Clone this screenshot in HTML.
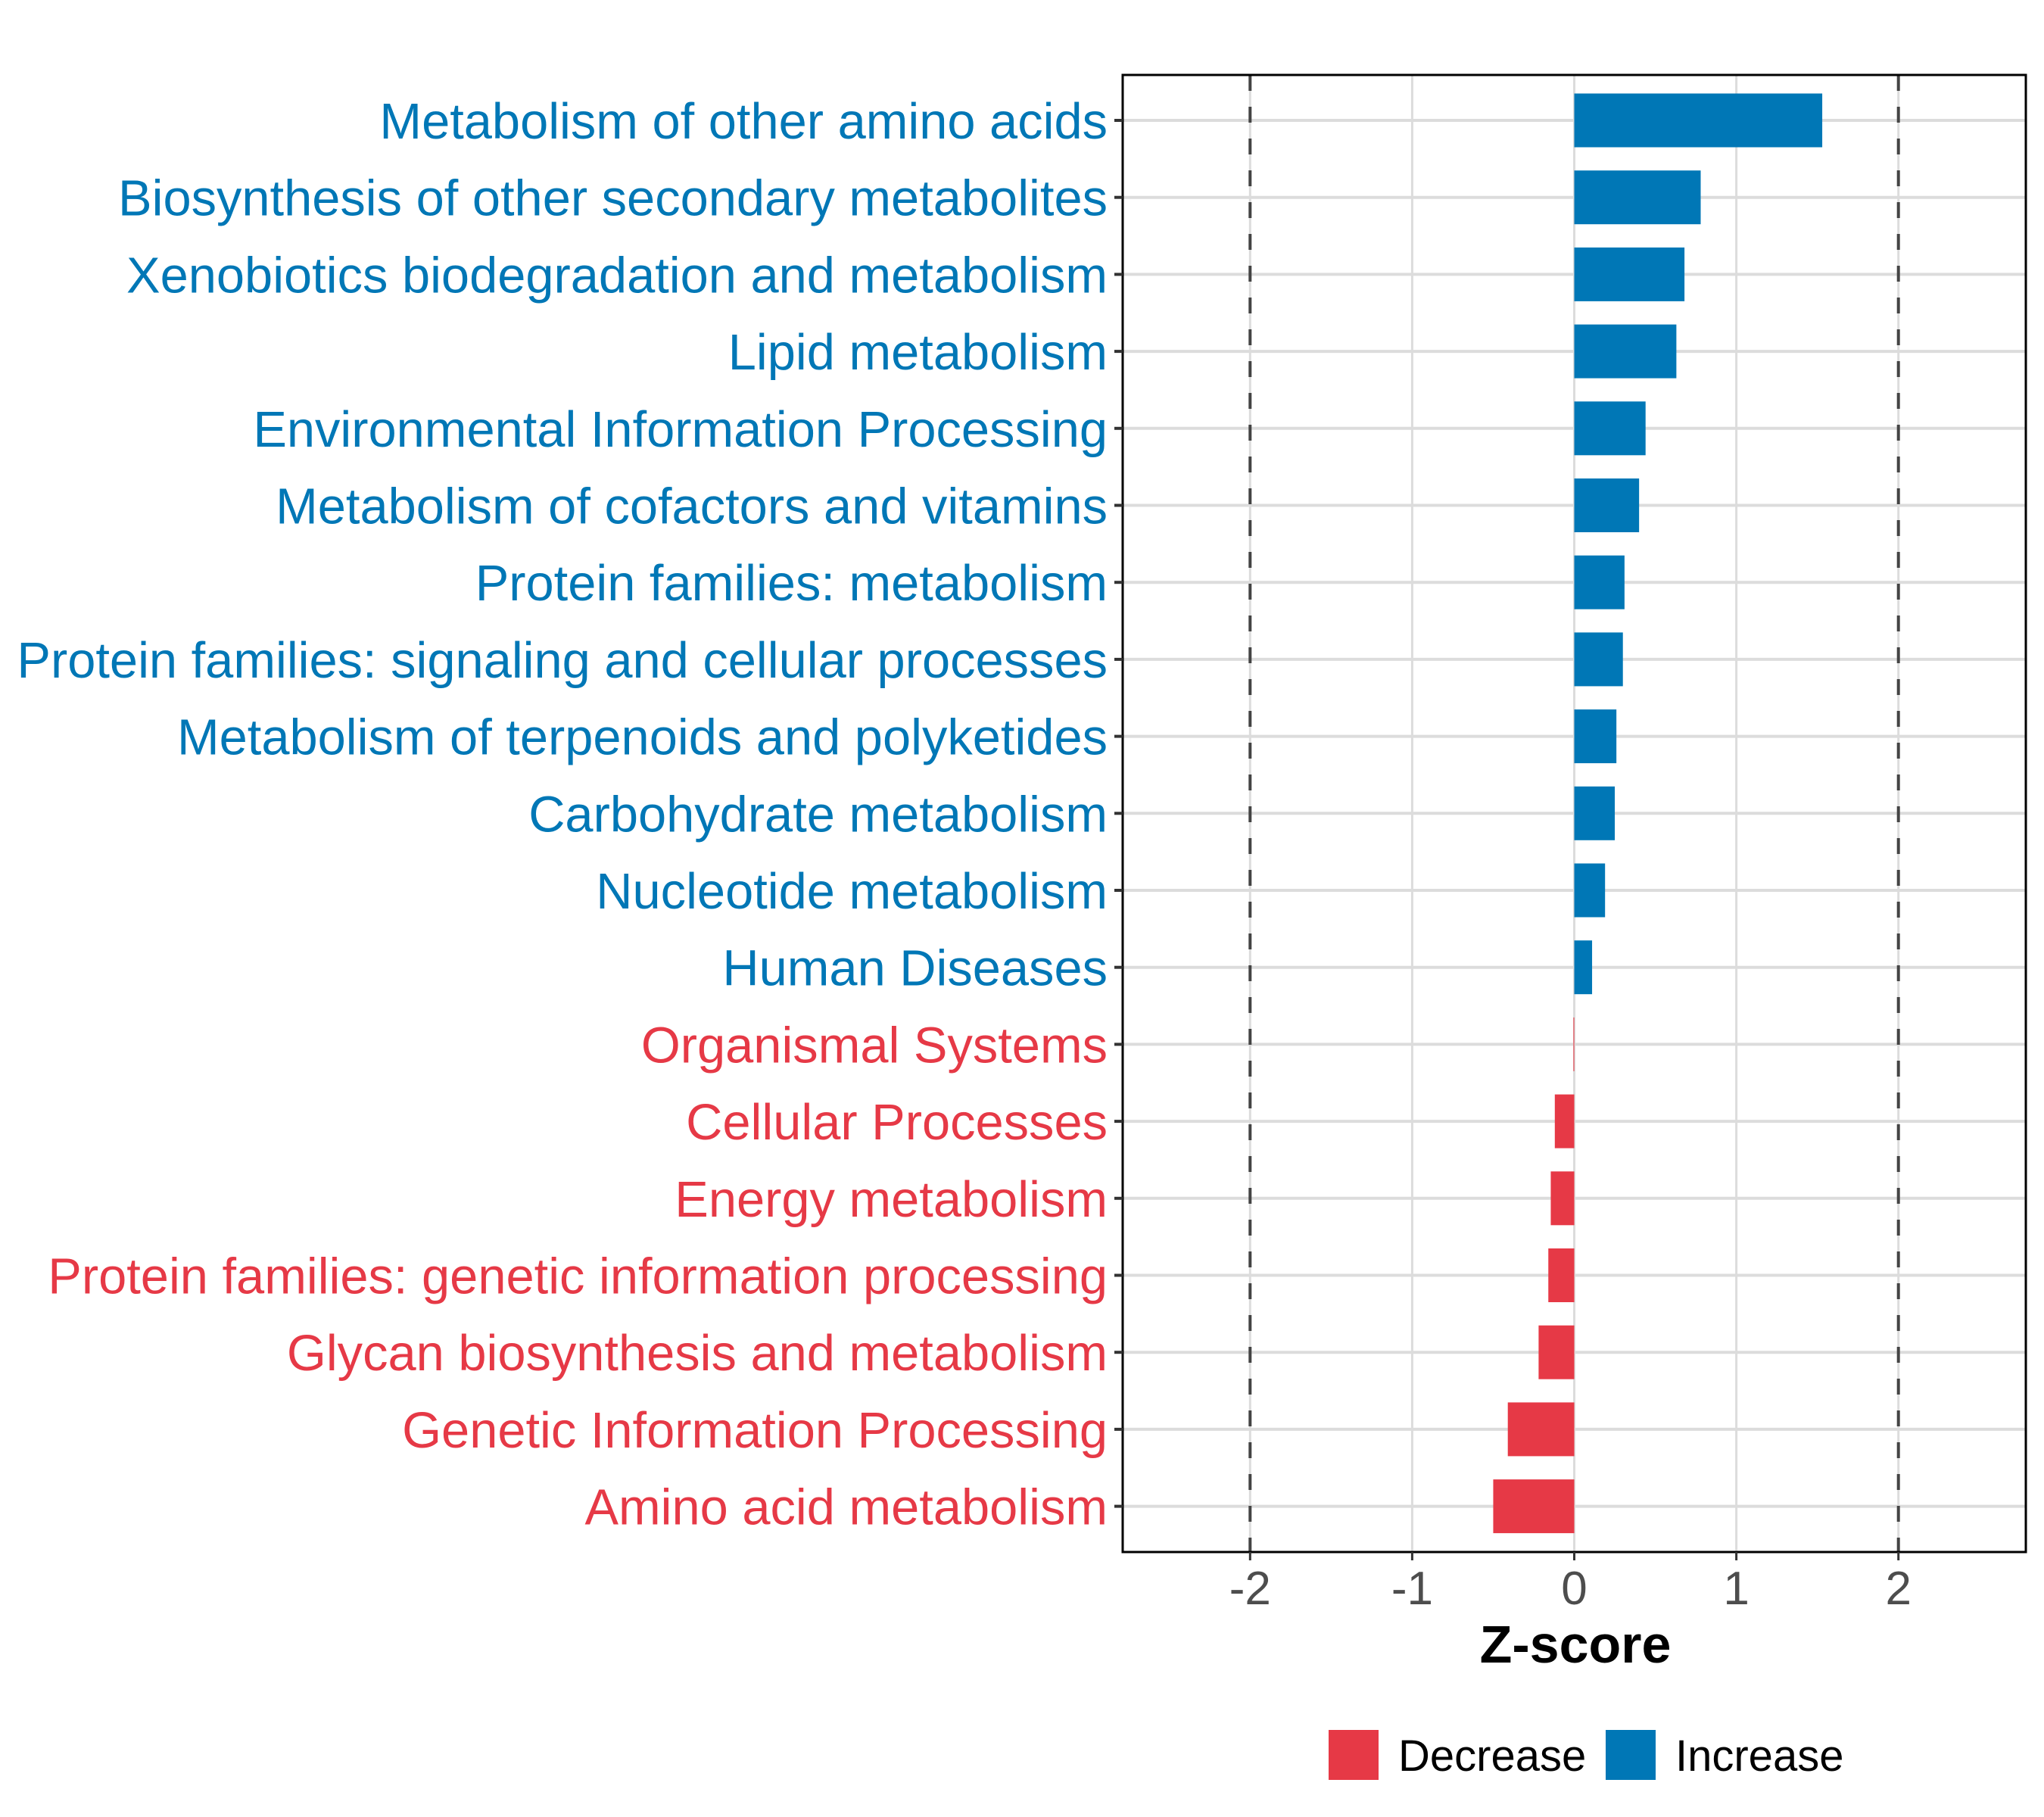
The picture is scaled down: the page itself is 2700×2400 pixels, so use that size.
<!DOCTYPE html>
<html><head><meta charset="utf-8"><style>
html,body{margin:0;padding:0;background:#fff}
svg{display:block}
text{font-family:"Liberation Sans",sans-serif}
</style></head><body>
<svg id="chart" width="2700" height="2400" viewBox="0 0 2700 2400" xmlns="http://www.w3.org/2000/svg">
<g id="grid"></g>
<g id="bars"></g>
<g id="refs"></g>
<rect x="1483" y="99" width="1193" height="1951" fill="none" stroke="#000" stroke-width="3"/>
<g id="ylabels"></g>
<g id="xticks"></g>
<text x="2081" y="2196" text-anchor="middle" font-size="70" font-weight="bold" fill="#000">Z-score</text>
<g>
<rect x="1755" y="2285" width="66" height="66" fill="#E63946"/>
<text x="1847" y="2339" font-size="58" fill="#000">Decrease</text>
<rect x="2121" y="2285" width="66" height="66" fill="#0077B6"/>
<text x="2213" y="2339" font-size="58" fill="#000">Increase</text>
</g>
</svg>
<script>
const categories = ["Metabolism of other amino acids","Biosynthesis of other secondary metabolites","Xenobiotics biodegradation and metabolism","Lipid metabolism","Environmental Information Processing","Metabolism of cofactors and vitamins","Protein families: metabolism","Protein families: signaling and cellular processes","Metabolism of terpenoids and polyketides","Carbohydrate metabolism","Nucleotide metabolism","Human Diseases","Organismal Systems","Cellular Processes","Energy metabolism","Protein families: genetic information processing","Glycan biosynthesis and metabolism","Genetic Information Processing","Amino acid metabolism"];
const zscores = [1.53,0.78,0.68,0.63,0.44,0.40,0.31,0.30,0.26,0.25,0.19,0.11,-0.005,-0.12,-0.145,-0.16,-0.22,-0.41,-0.50];
const xTicks = [-2,-1,0,1,2];
const xTickLabels = ["-2","-1","0","1","2"];
const refLines = [-2,2];

const NS="http://www.w3.org/2000/svg";
const X0=2079.5, UNIT=214.1, Y0=159, STEP=101.7, BARH=71;
function xs(v){return X0+v*UNIT;}
function ys(i){return Y0+i*STEP;}
function mk(tag,attrs,parent){const e=document.createElementNS(NS,tag);for(const k in attrs)e.setAttribute(k,attrs[k]);parent.appendChild(e);return e;}
const grid=document.getElementById('grid'),bars=document.getElementById('bars'),refs=document.getElementById('refs'),yl=document.getElementById('ylabels'),xt=document.getElementById('xticks');
xTicks.forEach((t,i)=>{
  const l=mk('line',{x1:xs(t),x2:xs(t),y1:99,y2:2050,stroke:'#dcdcdc','stroke-width':3},grid);
  
  
  const tk=mk('line',{x1:xs(t),x2:xs(t),y1:2050,y2:2061,stroke:'#333','stroke-width':3},xt);
  
  
  const tx=mk('text',{x:xs(t),y:2119,'text-anchor':'middle','font-size':62,fill:'#4d4d4d'},xt);
  tx.textContent=xTickLabels[i];
  
  
});
categories.forEach((c,i)=>{
  const y=ys(i), v=zscores[i], col=v<0?'#E63946':'#0077B6';
  const g=mk('line',{x1:1483,x2:2676,y1:y,y2:y,stroke:'#dcdcdc','stroke-width':4},grid);
  
  
  const tk=mk('line',{x1:1472,x2:1483,y1:y,y2:y,stroke:'#333','stroke-width':4},yl);
  
  
  const x1=Math.min(xs(0),xs(v)), w=Math.max(Math.abs(xs(v)-xs(0)),1);
  const r=mk('rect',{x:x1,y:y-BARH/2,width:w,height:BARH,fill:col},bars);
  
  
  const t=mk('text',{x:1463,y:y+24,'text-anchor':'end','font-size':66.8,fill:col},yl);
  t.textContent=c;
  
  
});
refLines.forEach(v=>{
  const l=mk('line',{x1:xs(v),x2:xs(v),y1:99,y2:2050,stroke:'#444','stroke-width':4,'stroke-dasharray':'21,21'},refs);
  
  
});
</script>
</body></html>
